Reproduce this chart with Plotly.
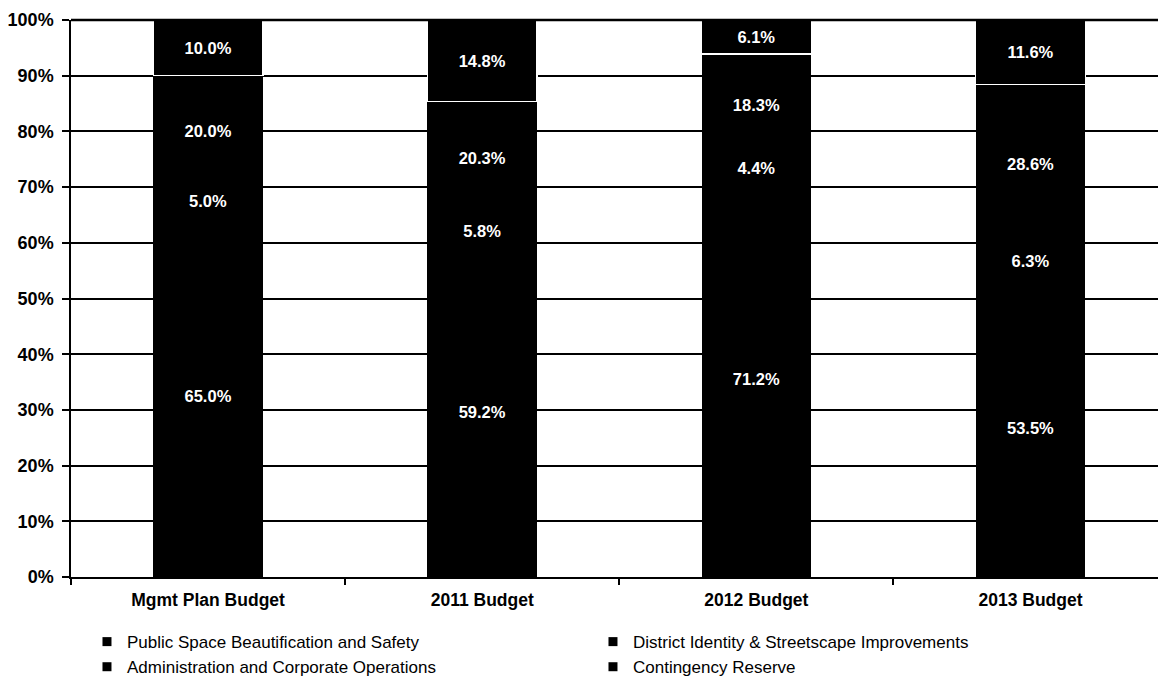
import plotly.graph_objects as go

categories = ["Mgmt Plan Budget", "2011 Budget", "2012 Budget", "2013 Budget"]

series_names = [
    "Public Space Beautification and Safety",
    "District Identity & Streetscape Improvements",
    "Administration and Corporate Operations",
    "Contingency Reserve",
]
public_space = [65.0, 59.2, 71.2, 53.5]
district_identity = [5.0, 5.8, 4.4, 6.3]
administration = [20.0, 20.3, 18.3, 28.6]
contingency = [10.0, 14.8, 6.1, 11.6]

y_tick_values = [0, 10, 20, 30, 40, 50, 60, 70, 80, 90, 100]
y_tick_labels = ["0%", "10%", "20%", "30%", "40%", "50%", "60%", "70%", "80%", "90%", "100%"]

FONT = "Arial, 'Liberation Sans', sans-serif"

fig = go.Figure()

all_series = [public_space, district_identity, administration, contingency]
for i, (name, vals) in enumerate(zip(series_names, all_series)):
    line_w = 1.2 if i == 3 else 0
    fig.add_trace(go.Bar(
        x=categories,
        y=vals,
        name=name,
        width=0.4,
        marker=dict(color="black", line=dict(color="white", width=line_w)),
        text=[f"{v:.1f}%" for v in vals],
        textposition="inside",
        insidetextanchor="middle",
        textangle=0,
        constraintext="none",
        textfont=dict(color="white", size=16.5, family=FONT, weight="bold"),
        showlegend=False,
        hoverinfo="skip",
    ))
    # legend entry with small square marker
    fig.add_trace(go.Scatter(
        x=[None], y=[None],
        mode="markers",
        name=name,
        marker=dict(symbol="square", size=9, color="black"),
        showlegend=True,
        hoverinfo="skip",
    ))

# top frame line of the plot area (drawn above the bars)
fig.add_shape(
    type="line", xref="paper", yref="paper",
    x0=0, x1=1, y0=1, y1=1,
    line=dict(color="black", width=2.5),
    layer="above",
)

fig.update_layout(
    width=1158,
    height=679,
    barmode="stack",
    plot_bgcolor="white",
    paper_bgcolor="white",
    margin=dict(l=71, r=0, t=20, b=102, autoexpand=False),
    font=dict(family=FONT, color="black"),
    legend=dict(
        orientation="h",
        traceorder="normal",
        x=0.0147,
        xanchor="left",
        y=-0.0845,
        yanchor="top",
        entrywidth=461,
        entrywidthmode="pixels",
        font=dict(size=17, family=FONT, color="black"),
        tracegroupgap=0,
        itemclick=False,
        bgcolor="rgba(0,0,0,0)",
    ),
    xaxis=dict(
        type="category",
        range=[-0.5, 3.465],
        showline=True,
        linecolor="black",
        linewidth=2,
        ticks="outside",
        tickson="boundaries",
        ticklen=6,
        tickwidth=1.5,
        tickcolor="black",
        showgrid=False,
        automargin=False,
        ticklabelstandoff=6,
        tickfont=dict(size=17.5, family=FONT, weight="bold", color="black"),
    ),
    yaxis=dict(
        range=[0, 100],
        tickvals=y_tick_values,
        ticktext=y_tick_labels,
        showgrid=True,
        gridcolor="black",
        gridwidth=1.6,
        showline=True,
        linecolor="black",
        linewidth=1.5,
        ticks="outside",
        ticklen=7,
        tickwidth=1.5,
        tickcolor="black",
        zeroline=False,
        automargin=False,
        ticklabelstandoff=5,
        tickfont=dict(size=18, family=FONT, weight="bold", color="black"),
    ),
)

fig.write_html("out.html")
